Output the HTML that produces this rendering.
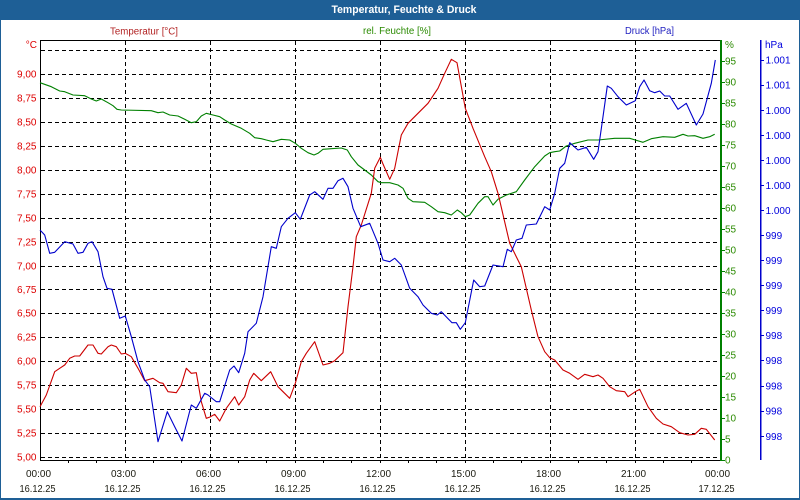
<!DOCTYPE html>
<html><head><meta charset="utf-8"><style>
html,body{margin:0;padding:0;background:#fff;}
svg{display:block;font-family:"Liberation Sans",sans-serif;}
</style></head><body>
<svg width="800" height="500" viewBox="0 0 800 500" xmlns="http://www.w3.org/2000/svg">
<rect x="0" y="0" width="800" height="500" fill="#fff"/>
<rect x="0" y="0" width="800" height="20" fill="#1e5f96"/>
<rect x="0" y="0" width="1" height="500" fill="#1e5f96"/>
<rect x="799" y="0" width="1" height="500" fill="#1e5f96"/>
<rect x="0" y="498" width="800" height="2" fill="#1e5f96"/>
<text x="404" y="13" fill="#fff" font-size="11" font-weight="bold" text-anchor="middle" textLength="145" lengthAdjust="spacingAndGlyphs">Temperatur, Feuchte &amp; Druck</text>

<text x="144" y="34.5" fill="#b22222" font-size="10" text-anchor="middle" textLength="68" lengthAdjust="spacingAndGlyphs">Temperatur [°C]</text>
<text x="397" y="34" fill="#2a8a00" font-size="10" text-anchor="middle" textLength="68" lengthAdjust="spacingAndGlyphs">rel. Feuchte [%]</text>
<text x="649.5" y="34" fill="#2020c0" font-size="10" text-anchor="middle" textLength="49" lengthAdjust="spacingAndGlyphs">Druck [hPa]</text>

<!-- grid -->
<g stroke="#000" stroke-width="1" stroke-dasharray="4,3" shape-rendering="crispEdges" fill="none">
<line x1="41" y1="457.5" x2="720" y2="457.5"/>
<line x1="41" y1="433.5" x2="720" y2="433.5"/>
<line x1="41" y1="409.5" x2="720" y2="409.5"/>
<line x1="41" y1="385.5" x2="720" y2="385.5"/>
<line x1="41" y1="361.5" x2="720" y2="361.5"/>
<line x1="41" y1="337.5" x2="720" y2="337.5"/>
<line x1="41" y1="313.5" x2="720" y2="313.5"/>
<line x1="41" y1="289.5" x2="720" y2="289.5"/>
<line x1="41" y1="266.5" x2="720" y2="266.5"/>
<line x1="41" y1="242.5" x2="720" y2="242.5"/>
<line x1="41" y1="218.5" x2="720" y2="218.5"/>
<line x1="41" y1="194.5" x2="720" y2="194.5"/>
<line x1="41" y1="170.5" x2="720" y2="170.5"/>
<line x1="41" y1="146.5" x2="720" y2="146.5"/>
<line x1="41" y1="122.5" x2="720" y2="122.5"/>
<line x1="41" y1="98.5" x2="720" y2="98.5"/>
<line x1="41" y1="74.5" x2="720" y2="74.5"/>
<line x1="41" y1="50.5" x2="720" y2="50.5"/>
<line x1="125.5" y1="41" x2="125.5" y2="460"/>
<line x1="210.5" y1="41" x2="210.5" y2="460"/>
<line x1="295.5" y1="41" x2="295.5" y2="460"/>
<line x1="380.5" y1="41" x2="380.5" y2="460"/>
<line x1="465.5" y1="41" x2="465.5" y2="460"/>
<line x1="550.5" y1="41" x2="550.5" y2="460"/>
<line x1="635.5" y1="41" x2="635.5" y2="460"/>
</g>

<!-- axes -->
<g shape-rendering="crispEdges" fill="none" stroke-width="1">
<line x1="40.5" y1="40" x2="40.5" y2="461" stroke="#000"/>
<line x1="40" y1="40.5" x2="720" y2="40.5" stroke="#000"/>
<line x1="40" y1="460.5" x2="720" y2="460.5" stroke="#000"/>
<g stroke="#000">
<line x1="68.5" y1="460" x2="68.5" y2="463"/><line x1="96.5" y1="460" x2="96.5" y2="463"/><line x1="125.5" y1="460" x2="125.5" y2="463"/>
<line x1="153.5" y1="460" x2="153.5" y2="463"/><line x1="181.5" y1="460" x2="181.5" y2="463"/><line x1="210.5" y1="460" x2="210.5" y2="463"/>
<line x1="238.5" y1="460" x2="238.5" y2="463"/><line x1="266.5" y1="460" x2="266.5" y2="463"/><line x1="295.5" y1="460" x2="295.5" y2="463"/>
<line x1="323.5" y1="460" x2="323.5" y2="463"/><line x1="351.5" y1="460" x2="351.5" y2="463"/><line x1="380.5" y1="460" x2="380.5" y2="463"/>
<line x1="408.5" y1="460" x2="408.5" y2="463"/><line x1="436.5" y1="460" x2="436.5" y2="463"/><line x1="465.5" y1="460" x2="465.5" y2="463"/>
<line x1="493.5" y1="460" x2="493.5" y2="463"/><line x1="521.5" y1="460" x2="521.5" y2="463"/><line x1="550.5" y1="460" x2="550.5" y2="463"/>
<line x1="578.5" y1="460" x2="578.5" y2="463"/><line x1="606.5" y1="460" x2="606.5" y2="463"/><line x1="635.5" y1="460" x2="635.5" y2="463"/>
<line x1="663.5" y1="460" x2="663.5" y2="463"/><line x1="691.5" y1="460" x2="691.5" y2="463"/>
</g>
<rect x="720" y="40" width="2" height="421" fill="#008000" stroke="none"/>
<g stroke="#008000">
<line x1="722" y1="460.5" x2="725" y2="460.5"/><line x1="722" y1="439.5" x2="725" y2="439.5"/><line x1="722" y1="418.5" x2="725" y2="418.5"/>
<line x1="722" y1="397.5" x2="725" y2="397.5"/><line x1="722" y1="376.5" x2="725" y2="376.5"/><line x1="722" y1="355.5" x2="725" y2="355.5"/>
<line x1="722" y1="334.5" x2="725" y2="334.5"/><line x1="722" y1="313.5" x2="725" y2="313.5"/><line x1="722" y1="292.5" x2="725" y2="292.5"/>
<line x1="722" y1="271.5" x2="725" y2="271.5"/><line x1="722" y1="250.5" x2="725" y2="250.5"/><line x1="722" y1="229.5" x2="725" y2="229.5"/>
<line x1="722" y1="208.5" x2="725" y2="208.5"/><line x1="722" y1="187.5" x2="725" y2="187.5"/><line x1="722" y1="166.5" x2="725" y2="166.5"/>
<line x1="722" y1="145.5" x2="725" y2="145.5"/><line x1="722" y1="124.5" x2="725" y2="124.5"/><line x1="722" y1="103.5" x2="725" y2="103.5"/>
<line x1="722" y1="82.5" x2="725" y2="82.5"/><line x1="722" y1="61.5" x2="725" y2="61.5"/>
</g>
<rect x="760" y="40" width="1.5" height="420" fill="#0000cc" stroke="none"/>
<g stroke="#0000cc">
<line x1="761" y1="60.5" x2="764" y2="60.5"/><line x1="761" y1="85.5" x2="764" y2="85.5"/><line x1="761" y1="110.5" x2="764" y2="110.5"/>
<line x1="761" y1="135.5" x2="764" y2="135.5"/><line x1="761" y1="160.5" x2="764" y2="160.5"/><line x1="761" y1="185.5" x2="764" y2="185.5"/>
<line x1="761" y1="210.5" x2="764" y2="210.5"/><line x1="761" y1="235.5" x2="764" y2="235.5"/><line x1="761" y1="260.5" x2="764" y2="260.5"/>
<line x1="761" y1="285.5" x2="764" y2="285.5"/><line x1="761" y1="310.5" x2="764" y2="310.5"/><line x1="761" y1="335.5" x2="764" y2="335.5"/>
<line x1="761" y1="360.5" x2="764" y2="360.5"/><line x1="761" y1="386.5" x2="764" y2="386.5"/><line x1="761" y1="411.5" x2="764" y2="411.5"/>
<line x1="761" y1="436.5" x2="764" y2="436.5"/>
</g>
</g>

<!-- left labels -->
<g fill="#dd0000" font-size="10" text-anchor="end">
<text x="37" y="48">°C</text>
<text x="36.5" y="77.5">9,00</text>
<text x="36.5" y="101.5">8,75</text>
<text x="36.5" y="125.5">8,50</text>
<text x="36.5" y="149.5">8,25</text>
<text x="36.5" y="173.5">8,00</text>
<text x="36.5" y="197.5">7,75</text>
<text x="36.5" y="221.5">7,50</text>
<text x="36.5" y="245.5">7,25</text>
<text x="36.5" y="269.5">7,00</text>
<text x="36.5" y="293">6,75</text>
<text x="36.5" y="316.5">6,50</text>
<text x="36.5" y="340.5">6,25</text>
<text x="36.5" y="364.5">6,00</text>
<text x="36.5" y="388.5">5,75</text>
<text x="36.5" y="412.5">5,50</text>
<text x="36.5" y="436.5">5,25</text>
<text x="36.5" y="460.5">5,00</text>
</g>

<!-- green labels -->
<g fill="#2a8a00" font-size="10">
<text x="725" y="48">%</text>
<text x="725" y="64.5">95</text>
<text x="725" y="85.5">90</text>
<text x="725" y="106.5">85</text>
<text x="725" y="127.5">80</text>
<text x="725" y="148.5">75</text>
<text x="725" y="169.5">70</text>
<text x="725" y="190.5">65</text>
<text x="725" y="211.5">60</text>
<text x="725" y="232.5">55</text>
<text x="725" y="253.5">50</text>
<text x="725" y="274.5">45</text>
<text x="725" y="295.5">40</text>
<text x="725" y="316.5">35</text>
<text x="725" y="337.5">30</text>
<text x="725" y="358.5">25</text>
<text x="725" y="379.5">20</text>
<text x="725" y="400.5">15</text>
<text x="725" y="421.5">10</text>
<text x="725" y="442.5">5</text>
<text x="725" y="463.5">0</text>
</g>

<!-- blue labels -->
<g fill="#0000dd" font-size="10">
<text x="765" y="48">hPa</text>
<text x="765.5" y="63.5">1.001</text>
<text x="765.5" y="88.5">1.001</text>
<text x="765.5" y="114">1.000</text>
<text x="765.5" y="139">1.000</text>
<text x="765.5" y="164">1.000</text>
<text x="765.5" y="189">1.000</text>
<text x="765.5" y="214">1.000</text>
<text x="765.5" y="239">999</text>
<text x="765.5" y="264">999</text>
<text x="765.5" y="289">999</text>
<text x="765.5" y="314">999</text>
<text x="765.5" y="339">998</text>
<text x="765.5" y="364">998</text>
<text x="765.5" y="389.5">998</text>
<text x="765.5" y="414.5">998</text>
<text x="765.5" y="440">998</text>
</g>

<!-- time labels -->
<g fill="#1a1a10" font-size="10" text-anchor="middle">
<text x="38.5" y="477">00:00</text><text x="37.5" y="492" textLength="36" lengthAdjust="spacingAndGlyphs">16.12.25</text>
<text x="123.5" y="477">03:00</text><text x="122.5" y="492" textLength="36" lengthAdjust="spacingAndGlyphs">16.12.25</text>
<text x="208.5" y="477">06:00</text><text x="207.5" y="492" textLength="36" lengthAdjust="spacingAndGlyphs">16.12.25</text>
<text x="293.5" y="477">09:00</text><text x="292.5" y="492" textLength="36" lengthAdjust="spacingAndGlyphs">16.12.25</text>
<text x="378.5" y="477">12:00</text><text x="377.5" y="492" textLength="36" lengthAdjust="spacingAndGlyphs">16.12.25</text>
<text x="463.5" y="477">15:00</text><text x="462.5" y="492" textLength="36" lengthAdjust="spacingAndGlyphs">16.12.25</text>
<text x="548.5" y="477">18:00</text><text x="547.5" y="492" textLength="36" lengthAdjust="spacingAndGlyphs">16.12.25</text>
<text x="633.5" y="477">21:00</text><text x="632.5" y="492" textLength="36" lengthAdjust="spacingAndGlyphs">16.12.25</text>
<text x="717.5" y="477">00:00</text><text x="716.5" y="492" textLength="36" lengthAdjust="spacingAndGlyphs">17.12.25</text>
</g>

<!-- series -->
<g fill="none" stroke-width="1.1" stroke-linejoin="round">
<polyline stroke="#008000" points="40,82.7 51.3,86.7 59.7,91 64.7,91.7 73,95 84.7,95.7 91.3,99 96.3,101 101.3,99 108,102.7 113,105.7 117,109.3 121.3,110 151.3,110.7 158,112.7 163,112 169.7,115 178,116 184.7,119.3 191.3,122.7 196.3,121.7 201.3,116 206.3,113.3 213,115 219.7,116.7 224.7,120 231.3,124 241.3,128.3 249.7,133.3 254.7,137.7 261.3,138.7 266.3,140 273,141.7 281.3,139.3 289.7,140 295.3,143.3 301.3,148.3 308,152.7 314,155 318,153.3 323,149.3 331.3,148.7 341.3,148 347.3,150 351.3,156.7 358,165 364.7,170 371.3,175 378,181.7 381.3,182.7 389.7,182.7 398,185 403,188.3 408,198.3 413,201.7 424.7,202.3 431.3,206.7 438,211.7 444.7,212.7 451.3,215 457.3,210 461.3,212.7 465.3,216.7 469.7,215 478,203.3 484.7,196.7 488,196.7 493,205 498,199.3 506.3,195 516.3,191.7 524.7,180 534.7,166.7 544.7,156 549.7,152.7 554.7,151.7 559.7,151 566.3,146 574.7,143.3 588,140 598,140 614.7,138.3 629.7,138.3 635.3,140 643,142.3 651.3,138.7 663,136.7 674.7,137.3 683,134.3 688,136 694.7,135.7 703,138.3 709.7,136.7 714.7,134.3"/>
<polyline stroke="#cc0000" points="40,406.7 46.3,395 54.7,371.7 59.7,368.3 64.7,365 69.7,358.3 74.7,356 79.7,356 88,345 93,345 98,353.3 101.3,354 108,346.7 111.3,345 116.3,346.7 121.3,354 125.3,353.3 131.3,356.7 138,368.3 144.7,380.7 153,378.3 159.7,382.7 163,383.3 168,391.7 176.3,392.7 181.3,385 186.3,368.3 191.3,373.3 196.3,372.7 201.3,401.7 206.3,418.3 210,417 214.7,414.3 219.7,421 226.3,408.3 234.7,396.7 238.7,405 244.7,396.7 249.7,380 253.7,373.3 261.3,380.7 270.7,371.7 278,386.7 283,391.7 289.7,398.3 295.3,383.3 301.3,361.7 306.3,353.3 314.7,341.7 323,365 329.7,363.3 334.7,360.7 343,352.7 348,306.7 353,266.7 356.3,236.7 361.3,225 371.3,193.3 374.7,168.3 380.3,157.3 383,164 389.7,179.3 394.7,168.3 401.3,135 408,123.3 418,113.3 428,103.3 438,88.3 444.7,73.3 451.3,59.3 457,62.7 465.3,108.3 473,128.3 484.7,156.7 491.3,171.7 498,193.3 509.7,243.3 516.3,256.7 521.3,266.7 531.3,310 538,336.7 544.7,351.7 549.7,357.7 554.7,360 563,370 569.7,373.3 578,379.3 584.7,374.3 593,376.7 598,375 603,378.3 609.7,386.7 616.3,390.7 624.7,391.7 628,396.7 635.3,391.7 639.7,389.3 648,406.7 656.3,418.3 663,424 671.3,426.7 679.7,432.7 688,435 694.7,434.3 701.3,428.3 706.3,429.3 714.7,440"/>
<polyline stroke="#0000cc" points="40,230 44.7,235 49.7,253.3 54.7,252.3 64.7,241.7 73,244 78,253.3 83,252.3 88,243.3 92,241.7 98,251.7 103,276.7 107,288.3 112,289.3 119.7,318.3 125.3,316 131.3,336.7 138,361.7 144.7,380 149.7,386.7 158,441.7 167.3,411.7 174.7,426.7 182,441 191.3,405 196.3,408.3 204.7,393.3 208,395 216.3,401.7 219.7,401.7 229.7,370 234,366 238.7,372.7 244.7,353.3 248,331.7 256.3,323.3 263,296.7 271.3,246.7 276.3,248.3 281.3,226.7 288,218.3 295.3,212.7 300.3,219.3 309.7,195 314.7,191.7 323,199.3 328,188.3 333,188.3 338,180.7 343,178.3 348,186.7 353,208.3 360.7,226.7 369.7,223.3 378,243.3 383,260 389.7,261.7 394.7,258.3 401.3,265 409.7,288.3 418,296.7 423,305 431.3,313.3 437.3,315 441.3,311.7 452,322.7 456.3,322.7 460.3,329.3 465.3,322.7 473.7,280 479.7,286.7 484.7,286 493,265 503,266.7 507.3,249.3 511.3,251.7 516.3,240 522,238.3 526.3,225 536.3,224 544.7,206.7 549.7,210 554.7,193.3 559.7,168.3 564.7,163.3 569.7,142.7 578,150 586.3,147.3 593.7,159.3 598,151.7 603,116.7 607.3,86 611.3,88.3 618,96.7 626.3,105 635.3,100.7 639.7,86.7 644,80 649.7,90.7 654.7,92.7 659.7,91 664.7,96 669.7,96 678,109.3 686.3,103.3 696.3,125 703,114 711.3,83.3 715.3,60"/>
</g>
</svg>
</body></html>
